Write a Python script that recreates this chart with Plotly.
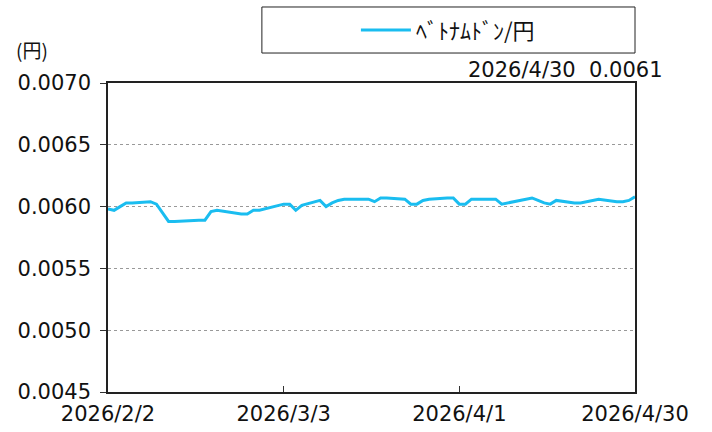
import plotly.graph_objects as go

dates = ["2026-02-02","2026-02-03","2026-02-04","2026-02-05","2026-02-06",
         "2026-02-09","2026-02-10","2026-02-11","2026-02-12","2026-02-13",
         "2026-02-16","2026-02-17","2026-02-18","2026-02-19","2026-02-20",
         "2026-02-23","2026-02-24","2026-02-25","2026-02-26","2026-02-27",
         "2026-03-02","2026-03-03","2026-03-04","2026-03-05","2026-03-06",
         "2026-03-09","2026-03-10","2026-03-11","2026-03-12","2026-03-13",
         "2026-03-16","2026-03-17","2026-03-18","2026-03-19","2026-03-20",
         "2026-03-23","2026-03-24","2026-03-25","2026-03-26","2026-03-27",
         "2026-03-30","2026-03-31","2026-04-01","2026-04-02","2026-04-03",
         "2026-04-06","2026-04-07","2026-04-08","2026-04-09","2026-04-10",
         "2026-04-13","2026-04-14","2026-04-15","2026-04-16","2026-04-17",
         "2026-04-20","2026-04-21","2026-04-22","2026-04-23","2026-04-24",
         "2026-04-27","2026-04-28","2026-04-29","2026-04-30"]
values = [0.00598,0.00597,0.00600,0.00603,0.00603,
          0.00604,0.00602,0.00595,0.00588,0.00588,
          0.00589,0.00589,0.00589,0.00596,0.00597,
          0.00595,0.00594,0.00594,0.00597,0.00597,
          0.00601,0.00602,0.00602,0.00597,0.00601,
          0.00605,0.00600,0.00603,0.00605,0.00606,
          0.00606,0.00606,0.00604,0.00607,0.00607,
          0.00606,0.00602,0.00602,0.00605,0.00606,
          0.00607,0.00607,0.00602,0.00602,0.00606,
          0.00606,0.00606,0.00602,0.00603,0.00604,
          0.00607,0.00605,0.00603,0.00602,0.00605,
          0.00603,0.00603,0.00604,0.00605,0.00606,
          0.00604,0.00604,0.00605,0.00608]
series_name = "ﾍﾞﾄﾅﾑﾄﾞﾝ/円"
x_tick_vals = ["2026-02-02","2026-03-03","2026-04-01","2026-04-30"]
x_tick_text = ["2026/2/2","2026/3/3","2026/4/1","2026/4/30"]
y_tick_vals = [0.0045,0.0050,0.0055,0.0060,0.0065,0.0070]
y_tick_text = ["0.0045","0.0050","0.0055","0.0060","0.0065","0.0070"]
latest_label = "2026/4/30\u00a0\u00a00.0061"
unit_label = "(円)"

FONT = "DejaVu Sans, Noto Sans CJK JP"
JFONT = "Noto Sans CJK JP"

fig = go.Figure()
fig.add_trace(go.Scatter(x=dates, y=values, mode="lines", name=series_name,
                         line=dict(color="#1ABDF0", width=3)))

fig.update_layout(
    template="none",
    width=712, height=432,
    margin=dict(l=108, r=77, t=83, b=40, autoexpand=False),
    paper_bgcolor="white", plot_bgcolor="white",
    font=dict(family=FONT, size=21, color="#111111"),
    showlegend=True,
    legend=dict(x=0.645, y=1.171, xanchor="center", yanchor="middle",
                bgcolor="rgba(0,0,0,0)", borderwidth=0,
                font=dict(size=22, family=JFONT), itemwidth=50),
    xaxis=dict(type="date", range=["2026-02-02","2026-04-30"],
               tickvals=x_tick_vals, ticktext=x_tick_text,
               ticks="inside", ticklen=6, tickcolor="#333", automargin=False,
               ticklabelstandoff=2,
               showline=True, linecolor="#222", linewidth=1.5, mirror=True,
               showgrid=False, zeroline=False),
    yaxis=dict(range=[0.0045,0.0070], tickvals=y_tick_vals, ticktext=y_tick_text,
               ticks="outside", ticklen=6, tickcolor="#333", automargin=False,
               ticklabelstandoff=5,
               showline=True, linecolor="#222", linewidth=1.5, mirror=True,
               showgrid=True, gridcolor="#999", griddash="dot", gridwidth=1,
               zeroline=False),
    shapes=[dict(type="rect", xref="paper", yref="paper",
                 x0=0.292, x1=1.0, y0=1.097, y1=1.246,
                 line=dict(color="#222", width=1), fillcolor="rgba(0,0,0,0)")],
    annotations=[
        dict(text=latest_label, xref="paper", yref="paper", x=1.057, y=1.042,
             xanchor="right", yanchor="middle", showarrow=False,
             font=dict(size=21, family=FONT)),
        dict(text=unit_label, xref="paper", yref="paper", x=-0.178, y=1.107,
             xanchor="left", yanchor="middle", showarrow=False,
             font=dict(size=19, family=JFONT)),
    ],
)

fig.write_html("out.html", config={"displayModeBar": False},
               post_script="document.body.style.margin='0';document.body.style.padding='0';")
